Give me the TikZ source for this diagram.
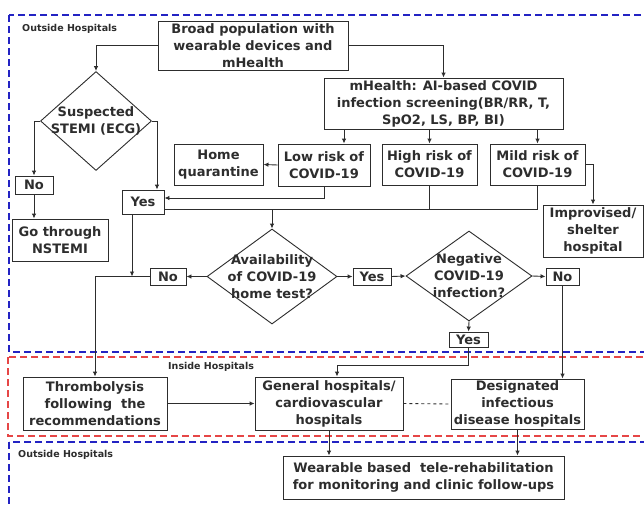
\documentclass[tikz,border=0pt]{standalone}
\usepackage{fontspec}
\setmainfont{DejaVu Sans}
\usetikzlibrary{arrows.meta,shapes.geometric}

\definecolor{inkgray}{RGB}{45,45,45}
\definecolor{zoneblue}{RGB}{35,35,195}
\definecolor{zonered}{RGB}{230,70,70}

\tikzset{
    box/.style={draw=inkgray, line width=0.9pt, align=center, inner sep=0pt, text=inkgray,
        font=\fontsize{13}{17}\selectfont\bfseries},
    dia/.style={draw=inkgray, line width=0.9pt, diamond, inner sep=0pt},
    diatext/.style={align=center, inner sep=0pt, text=inkgray, font=\fontsize{13}{17}\selectfont\bfseries},
    arr/.style={draw=inkgray, line width=0.9pt, -{Latex[length=5pt,width=4.5pt]}},
    link/.style={draw=inkgray, line width=0.9pt},
    zone/.style={line width=1.8pt, dash pattern=on 7pt off 4pt},
    zonelabel/.style={anchor=west, inner sep=0pt, text=inkgray, font=\fontsize{9.5}{11}\selectfont\bfseries}
}

\begin{document}
\begin{tikzpicture}[x=1pt, y=-1pt]
                \clip (0, 0) rectangle (644, 506);
                \fill[white] (0, 0) rectangle (644, 506);

                \draw[zone, zoneblue] (9, 15) rectangle (670, 352);

                \draw[zone, zonered] (8, 357) rectangle (670, 436);

                \draw[zone, zoneblue] (9, 442) rectangle (670, 540);

                \node[zonelabel] (outsideA) at (22, 29) {Outside Hospitals};

                \node[zonelabel] (inside) at (168, 367) {Inside Hospitals};

                \node[zonelabel] (outsideB) at (18, 455) {Outside Hospitals};

                \node[box, minimum width=190pt, minimum height=49pt] (broad) at (253, 45.5) {Broad population with\\wearable devices and\\mHealth};

                \node[box, minimum width=239pt, minimum height=51pt] (screen) at (443.5, 103.5) {mHealth: AI-based COVID\\infection screening(BR/RR, T,\\SpO2, LS, BP, BI)};

                \node[box, minimum width=92pt, minimum height=42pt] (low) at (324, 165) {Low risk of\\COVID-19};

                \node[box, minimum width=95pt, minimum height=41pt] (high) at (429.5, 164.5) {High risk of\\COVID-19};

                \node[box, minimum width=95pt, minimum height=41pt] (mild) at (537.5, 164.5) {Mild risk of\\COVID-19};

                \node[box, minimum width=89pt, minimum height=41pt] (home) at (218.5, 164.5) {Home\\quarantine};

                \node[box, minimum width=100pt, minimum height=52pt] (shelter) at (593, 231) {Improvised/\\shelter\\hospital};

                \node[dia, minimum width=111pt, minimum height=99pt] (stemi) at (96, 121) {};
                \node[diatext] (stemitext) at (stemi) {Suspected\\STEMI (ECG)};

                \node[box, minimum width=38pt, minimum height=18pt] (noA) at (34, 185) {No};

                \node[box, minimum width=96pt, minimum height=42pt] (nstemi) at (60, 240) {Go through\\NSTEMI};

                \node[box, minimum width=42pt, minimum height=24pt] (yesA) at (143, 202) {Yes};

                \node[dia, minimum width=130pt, minimum height=95pt] (avail) at (272, 276.5) {};
                \node[diatext] (availtext) at (avail) {Availability\\of COVID-19\\home test?};

                \node[box, minimum width=36pt, minimum height=17pt] (noB) at (168, 276.5) {No};

                \node[box, minimum width=38pt, minimum height=17pt] (yesB) at (372, 276.5) {Yes};

                \node[dia, minimum width=126pt, minimum height=90pt] (neg) at (469, 276) {};
                \node[diatext] (negtext) at (neg) {Negative\\COVID-19\\infection?};

                \node[box, minimum width=33pt, minimum height=17pt] (noC) at (562.5, 276.5) {No};

                \node[box, minimum width=39pt, minimum height=15pt] (yesC) at (468.5, 339.5) {Yes};

                \node[box, minimum width=144pt, minimum height=53pt] (thromb) at (95, 403.5) {Thrombolysis\\following\ \ the\\recommendations};

                \node[box, minimum width=148pt, minimum height=53pt] (general) at (329, 403.5) {General hospitals/\\cardiovascular\\hospitals};

                \node[box, minimum width=133pt, minimum height=50pt] (desig) at (517.5, 404) {Designated\\infectious\\disease hospitals};

                \node[box, minimum width=281pt, minimum height=43pt] (wear) at (423.5, 477.5) {Wearable based\ \ tele-rehabilitation\\for monitoring and clinic follow-ups};

                \coordinate (lowdrop) at (344, 0);
                \coordinate (bus) at (164, 209);

                \draw[arr] (broad.west) -| (stemi.north);

                \draw[arr] (broad.east) -| (screen.north);

                \draw[arr] (screen.south -| lowdrop) -- (low.north -| lowdrop);

                \draw[arr] (screen.south -| high.north) -- (high.north);

                \draw[arr] (screen.south -| mild.north) -- (mild.north);

                \draw[arr] (low.west) -- (home.east);

                \draw[arr] (low.south) |- ([yshift=4pt]yesA.east);

                \draw[link] (bus) -| (mild.south);

                \draw[link] (high.south) -- (high.south |- bus);

                \draw[arr] (avail.north |- bus) -- (avail.north);

                \draw[arr] (mild.east) -| (shelter.north);

                \draw[arr] (stemi.east) -| ([xshift=14pt]yesA.north);

                \draw[arr] (stemi.west) -| (noA.north);

                \draw[arr] (noA.south) -- (noA.south |- nstemi.north);

                \draw[arr] ([xshift=-11pt]yesA.south) -- ([xshift=-11pt]yesA.south |- noB.west);

                \draw[arr] (noB.west) -| (thromb.north);

                \draw[arr] (avail.west) -- (noB.east);

                \draw[arr] (avail.east) -- (yesB.west);

                \draw[arr] (yesB.east) -- (neg.west);

                \draw[arr] (neg.east) -- (noC.west);

                \draw[arr] (neg.south) -- (yesC.north);

                \draw[arr] (yesC.south) -- ++(0, 18) -| ([xshift=8pt]general.north);

                \draw[arr] (noC.south) -- (noC.south |- desig.north);

                \draw[arr] (thromb.east) -- (general.west);

                \draw[link, dashed] (general.east) -- (desig.west);

                \draw[arr] (general.south) -- (general.south |- wear.north);

                \draw[arr] (desig.south) -- (desig.south |- wear.north);
            \end{tikzpicture}
\end{document}
